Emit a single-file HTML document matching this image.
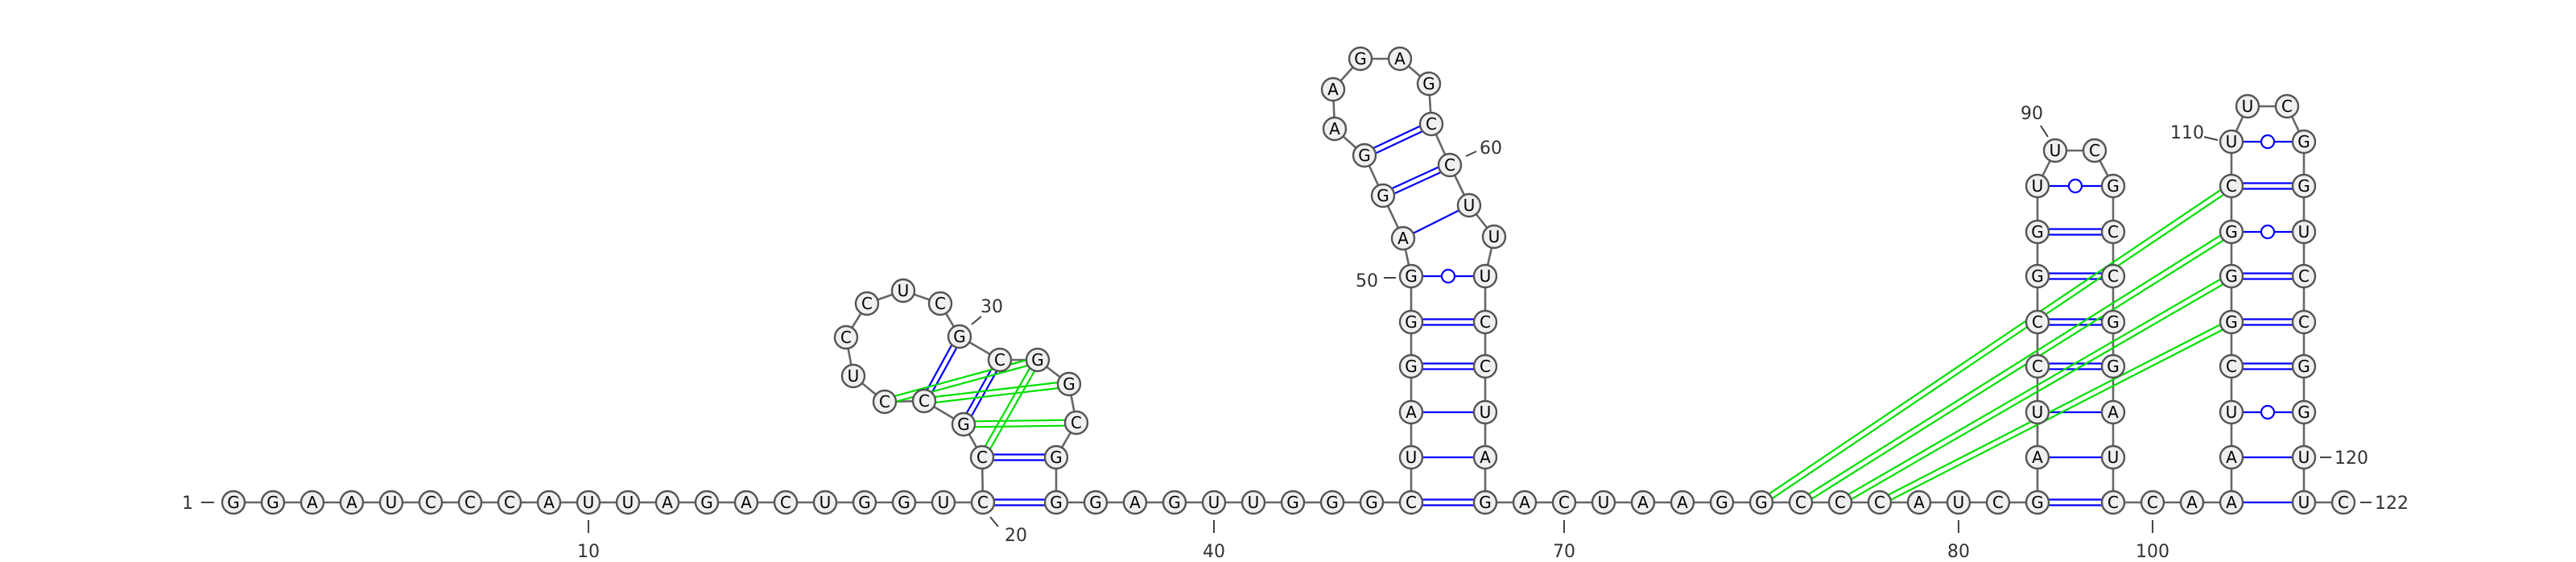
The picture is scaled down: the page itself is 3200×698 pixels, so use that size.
<!DOCTYPE html>
<html><head><meta charset="utf-8"><title>RNA secondary structure</title>
<style>html,body{margin:0;padding:0;background:#fff}svg{display:block}</style></head>
<body>
<svg id="chart" xmlns="http://www.w3.org/2000/svg" width="3200" height="698" viewBox="0 0 3200 698">
<g id="backbone"></g>
<g id="pairs"></g>
<g id="pk"></g>
<g id="nodes"></g>
<g id="labels"></g>
</svg>
<script>
const sequence = "GGAAUCCCAUUAGACUGGUC" + "CGCCUCCUCGCGGCGG" + "GAGUUGGGC" + "UAGGGAGGAAGAGCCUUUCCUAG" + "ACUAAGGCCCAUCG" + "AUCCGGUUCGCCGGAUC" + "CAAAUCGGGCUUCGGUCCGGUUC";
const canonicalPairs = [[20,36],[21,35],[22,31],[23,30],[45,68],[48,65],[49,64],[52,60],[53,59],[82,99],[85,96],[86,95],[87,94],[88,93],[105,118],[106,117],[107,116],[109,114]];
const auPairs = [[46,67],[47,66],[51,61],[83,98],[84,97],[102,121],[103,120]];
const wobblePairs = [[50,63],[89,92],[104,119],[108,115],[110,113]];
const pseudoknotPairs = [[24,32],[23,33],[22,34],[21,32],[75,109],[76,108],[77,107],[78,106]];
const bottomTicks = [10,40,70,80,100];

// layout coordinates (not data)
const P = {};
function put(i,x,y){P[i]=[x,y];}
for(let i=1;i<=20;i++) put(i,290+49*(i-1),624);
[[21,1220,568],[22,1197,527],[23,1148,498],[24,1099,499],[25,1060,467],[26,1051,419],[27,1077,377],[28,1122,361],[29,1168,377],[30,1192,418],[31,1242,447],[32,1289,447],[33,1328,477],[34,1337,525],[35,1312,568],[36,1312,624]].forEach(a=>put(...a));
for(let i=37;i<=45;i++) put(i,1312+49*(i-36),624);
const rows=[624,568,512,455,400,343,288,231,176];
for(let k=1;k<=5;k++) put(45+k,1753,rows[k]);
[[51,1743,296],[52,1718,243],[53,1695,193],[54,1658,160],[55,1656,111],[56,1690,73],[57,1739,73],[58,1775,104],[59,1778,154],[60,1801,205],[61,1825,255],[62,1856,294]].forEach(a=>put(...a));
for(let k=5;k>=0;k--) put(68-k,1845,rows[k]);
for(let i=69;i<=82;i++) put(i,1845+49*(i-68),624);
for(let k=1;k<=7;k++) put(82+k,2531,rows[k]);
put(90,2553,187);put(91,2602,187);
for(let k=7;k>=0;k--) put(99-k,2625,rows[k]);
put(100,2674,624);put(101,2723,624);put(102,2772,624);
for(let k=1;k<=8;k++) put(102+k,2772,rows[k]);
put(111,2792,132);put(112,2841,132);
for(let k=8;k>=0;k--) put(121-k,2862,rows[k]);
put(122,2911,624);

const NS="http://www.w3.org/2000/svg";
function mk(tag,parent,attrs){const e=document.createElementNS(NS,tag);for(const k in attrs)e.setAttribute(k,attrs[k]);parent.appendChild(e);return e;}
const gB=document.getElementById('backbone'),gP=document.getElementById('pairs'),gK=document.getElementById('pk'),gN=document.getElementById('nodes'),gL=document.getElementById('labels');
const R=14;
const N=Math.min(sequence.length,122);
for(let i=1;i<N;i++){
  const a=P[i],b=P[i+1];
  if(!a||!b) continue;
  const l=mk('line',gB,{x1:a[0],y1:a[1],x2:b[0],y2:b[1],stroke:'#666','stroke-width':2.6});
  
  
}
function seg(g,i,j,off,color,name){
  const a=P[i],b=P[j];const dx=b[0]-a[0],dy=b[1]-a[1];const L=Math.hypot(dx,dy);
  const ux=dx/L,uy=dy/L,nx=-uy*off,ny=ux*off;
  const l=mk('line',g,{x1:a[0]+ux*R+nx,y1:a[1]+uy*R+ny,x2:b[0]-ux*R+nx,y2:b[1]-uy*R+ny,stroke:color,'stroke-width':2.2});
  
  
}
canonicalPairs.forEach(p=>{seg(gP,p[0],p[1],3.5,'#0000ff','gc-pair-line');seg(gP,p[0],p[1],-3.5,'#0000ff','gc-pair-line');});
auPairs.forEach(p=>seg(gP,p[0],p[1],0,'#0000ff','au-pair-line'));
wobblePairs.forEach(p=>{
  seg(gP,p[0],p[1],0,'#0000ff','gu-pair-line');
  const a=P[p[0]],b=P[p[1]];
  const c=mk('circle',gP,{cx:(a[0]+b[0])/2,cy:(a[1]+b[1])/2,r:8,fill:'#fff',stroke:'#0000ff','stroke-width':2.2});
  
  
});
pseudoknotPairs.forEach(p=>{seg(gK,p[0],p[1],3.5,'#00e000','pseudoknot-line');seg(gK,p[0],p[1],-3.5,'#00e000','pseudoknot-line');});
for(let i=1;i<=N;i++){
  if(!P[i]) continue;
  const g=mk('g',gN,{});
  
  
  mk('circle',g,{cx:P[i][0],cy:P[i][1],r:R,fill:'#f0f0f0',stroke:'#555','stroke-width':2.4});
  const t=mk('text',g,{x:P[i][0],y:P[i][1]+7,'text-anchor':'middle','font-family':'DejaVu Sans, Liberation Sans, sans-serif','font-size':20,fill:'#000'});
  t.textContent=sequence[i-1];
}
function lab(txt,x,y,anchor,tick){
  const g=mk('g',gL,{});
  
  
  if(tick) mk('line',g,{x1:tick[0],y1:tick[1],x2:tick[2],y2:tick[3],stroke:'#444','stroke-width':2});
  const t=mk('text',g,{x:x,y:y,'text-anchor':anchor,'font-family':'DejaVu Sans, Liberation Sans, sans-serif','font-size':22,fill:'#333'});
  t.textContent=txt;
}
lab('1',240,632,'end',[250,624,266,624]);
bottomTicks.forEach(n=>{
  const x=P[n][0];
  lab(String(n),x,692,'middle',[x,646,x,662]);
});
lab('20',1262,672,'middle',[1230,642,1240,654]);
lab('30',1232,388,'middle',[1207,403,1219,393]);
lab('50',1712,356,'end',[1719,345,1734,345]);
lab('60',1838,191,'start',[1821,194,1834,188]);
lab('90',2524,148,'middle',[2535,156,2544,170]);
lab('110',2738,172,'end',[2738,170,2755,174]);
lab('120',2900,576,'start',[2882,568,2896,568]);
lab('122',2950,632,'start',[2932,624,2946,624]);
</script>
</body></html>
